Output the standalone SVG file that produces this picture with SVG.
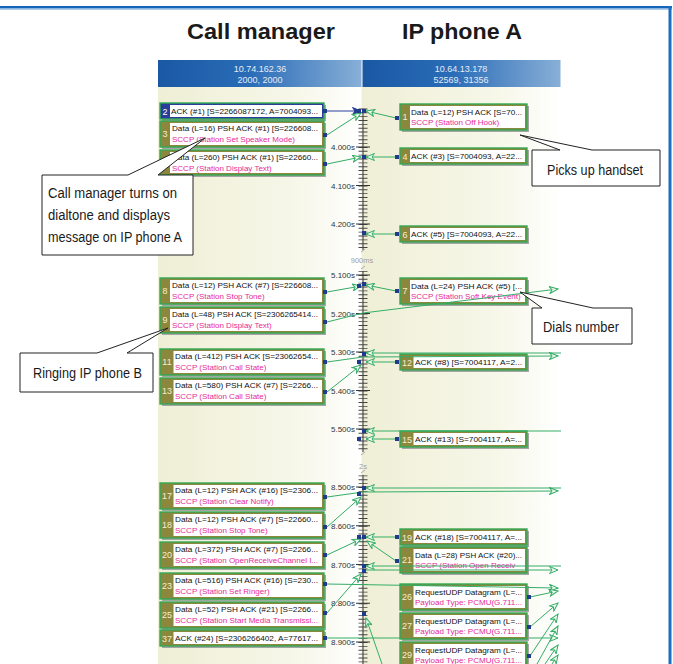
<svg xmlns="http://www.w3.org/2000/svg" width="673" height="664" viewBox="0 0 673 664">
<defs>
<linearGradient id="hb" x1="0" y1="0" x2="1" y2="0">
<stop offset="0" stop-color="#1a58a4"/><stop offset="0.45" stop-color="#2a6cb7"/><stop offset="1" stop-color="#88afd7"/>
</linearGradient>
<linearGradient id="cb" x1="0" y1="0" x2="1" y2="0">
<stop offset="0" stop-color="#efefd6"/><stop offset="0.7" stop-color="#f7f7ea"/><stop offset="1" stop-color="#ffffff"/>
</linearGradient>
<marker id="ah" viewBox="0 0 10 8" refX="9" refY="4" markerWidth="10" markerHeight="8" markerUnits="userSpaceOnUse" orient="auto">
<path d="M0.5,0.5 L9,4 L0.5,7.5 L3,4 Z" fill="#eefaf2" stroke="#34ad66" stroke-width="1"/>
</marker>
<marker id="ahb" viewBox="0 0 10 8" refX="9" refY="4" markerWidth="10" markerHeight="8" markerUnits="userSpaceOnUse" orient="auto">
<path d="M0.5,0.5 L9,4 L0.5,7.5 L3,4 Z" fill="#233a94" stroke="#233a94" stroke-width="1"/>
</marker>
</defs>
<style>
.sh{fill:#a5a5a5}
.nb{fill:#8b873c;stroke:#34a853;stroke-width:1.4}
.nbs{fill:#2a3d98;stroke:#34a853;stroke-width:1.4}
.nw{fill:#ffffff}
.num{font-family:"Liberation Sans",Arial,sans-serif;font-size:9px;fill:#f3efcf;text-anchor:middle}
.t1{font-family:"Liberation Sans",Arial,sans-serif;font-size:8px;fill:#111111}
.t2{font-family:"Liberation Sans",Arial,sans-serif;font-size:8px;fill:#e62a98}
.ttl{font-family:"Liberation Sans",Arial,sans-serif;font-size:22px;font-weight:bold;fill:#1a1a1a;text-anchor:middle}
.hdr{font-family:"Liberation Sans",Arial,sans-serif;font-size:9px;fill:#e4ecf6;text-anchor:middle}
.tl{font-family:"Liberation Sans",Arial,sans-serif;font-size:8px;fill:#333333;text-anchor:end}
.gl{font-family:"Liberation Sans",Arial,sans-serif;font-size:7.5px;fill:#a0a0a0;text-anchor:middle}
.c{fill:none;stroke:#34ad66;stroke-width:1}
.sq{fill:#1f3b8c}
.co{fill:#ffffff;stroke:#222222;stroke-width:1}
.ct{font-family:"Liberation Sans",Arial,sans-serif;font-size:14px;fill:#1a1a1a}
</style>
<rect x="0" y="0" width="673" height="664" fill="#ffffff"/>
<!-- frame -->
<rect x="0" y="6" width="672" height="2.5" fill="#1565b8"/>
<rect x="0" y="8.5" width="672" height="1.2" fill="#8ab8e4"/>
<rect x="668.5" y="6" width="3" height="658" fill="#1a6fc0"/>
<!-- titles -->
<text class="ttl" x="261" y="39" textLength="148" lengthAdjust="spacingAndGlyphs">Call manager</text>
<text class="ttl" x="462" y="39" textLength="120" lengthAdjust="spacingAndGlyphs">IP phone A</text>
<!-- column backgrounds -->
<rect x="158" y="87" width="203.5" height="577" fill="url(#cb)"/>
<rect x="361.5" y="87" width="199" height="577" fill="url(#cb)"/>
<!-- header bars -->
<g id="hdrA">
<rect x="158" y="60" width="203.5" height="27" fill="url(#hb)"/>
<text class="hdr" x="260" y="71.5">10.74.162.36</text>
<text class="hdr" x="260" y="83">2000, 2000</text>
</g>
<g id="hdrB">
<rect x="362.5" y="60" width="198" height="27" fill="url(#hb)"/>
<text class="hdr" x="461" y="71.5">10.64.13.178</text>
<text class="hdr" x="461" y="83">52569, 31356</text>
</g>
<!-- time axis -->
<g id="axis">
<line x1="363" y1="108.5" x2="363" y2="250" stroke="#333" stroke-width="1"/>
<line x1="363" y1="108.5" x2="363" y2="250" stroke="#444" stroke-width="9" stroke-dasharray="0.9 2.95"/>
<line x1="363" y1="271" x2="363" y2="452" stroke="#333" stroke-width="1"/>
<line x1="363" y1="271.15" x2="363" y2="452" stroke="#444" stroke-width="9" stroke-dasharray="0.9 2.95"/>
<line x1="363" y1="475" x2="363" y2="664" stroke="#333" stroke-width="1"/>
<line x1="363" y1="475.4" x2="363" y2="664" stroke="#444" stroke-width="9" stroke-dasharray="0.9 2.975"/>
<path d="M356,147H370M356,185.5H370M356,224H370M356,275H370M356,313.5H370M356,352H370M356,390.5H370M356,429H370M356,487H370M356,525.75H370M356,564.5H370M356,603.25H370M356,642H370" stroke="#333" stroke-width="1"/>
<text class="tl" x="355" y="150">4.000s</text>
<text class="tl" x="355" y="188.5">4.100s</text>
<text class="tl" x="355" y="227">4.200s</text>
<text class="tl" x="355" y="278">5.100s</text>
<text class="tl" x="355" y="316.5">5.200s</text>
<text class="tl" x="355" y="355">5.300s</text>
<text class="tl" x="355" y="393.5">5.400s</text>
<text class="tl" x="355" y="432">5.500s</text>
<text class="tl" x="355" y="490">8.500s</text>
<text class="tl" x="355" y="528.75">8.600s</text>
<text class="tl" x="355" y="567.5">8.700s</text>
<text class="tl" x="355" y="606.25">8.800s</text>
<text class="tl" x="355" y="645">8.900s</text>
<path d="M361,252L365,249M361,269L365,266M361,455L365,452M361,473L365,470" stroke="#aaa" stroke-width="1"/>
<text class="gl" x="362" y="263">900ms</text>
<text class="gl" x="363" y="469">2s</text>
</g>
<!-- nodes: Call manager -->
<g id="n2">
<rect class="sh" x="162" y="105" width="164" height="16"/>
<rect class="nbs" x="160" y="103" width="164" height="16"/>
<rect class="nw" x="170" y="105" width="152" height="12"/>
<text class="num" x="165" y="114.5" style="fill:#ffffff">2</text>
<text class="t1" x="171" y="114" textLength="147" lengthAdjust="spacingAndGlyphs">ACK (#1) [S=2266087172, A=7004093...</text>
</g>
<g id="n3">
<rect class="sh" x="162" y="123" width="164" height="26"/>
<rect class="nb" x="160" y="121" width="164" height="26"/>
<rect class="nw" x="170" y="123" width="152" height="22"/>
<text class="num" x="165" y="137">3</text>
<text class="t1" x="172" y="131" textLength="146" lengthAdjust="spacingAndGlyphs">Data (L=16) PSH ACK (#1) [S=226608...</text>
<text class="t2" x="172" y="142">SCCP (Station Set Speaker Mode)</text>
</g>
<g id="n5">
<rect class="sh" x="162" y="152" width="164" height="25"/>
<rect class="nb" x="160" y="150" width="164" height="25"/>
<rect class="nw" x="170" y="152" width="152" height="21"/>
<text class="t1" x="172" y="160" textLength="146" lengthAdjust="spacingAndGlyphs">Data (L=260) PSH ACK (#1) [S=22660...</text>
<text class="t2" x="172" y="171">SCCP (Station Display Text)</text>
</g>
<g id="n8">
<rect class="sh" x="162" y="280" width="164" height="26"/>
<rect class="nb" x="160" y="278" width="164" height="26"/>
<rect class="nw" x="170" y="280" width="152" height="22"/>
<text class="num" x="165" y="294">8</text>
<text class="t1" x="172" y="288" textLength="146" lengthAdjust="spacingAndGlyphs">Data (L=12) PSH ACK (#7) [S=226608...</text>
<text class="t2" x="172" y="299">SCCP (Station Stop Tone)</text>
</g>
<g id="n9">
<rect class="sh" x="162" y="309" width="164" height="26"/>
<rect class="nb" x="160" y="307" width="164" height="26"/>
<rect class="nw" x="170" y="309" width="152" height="22"/>
<text class="num" x="165" y="323">9</text>
<text class="t1" x="172" y="317" textLength="146" lengthAdjust="spacingAndGlyphs">Data (L=48) PSH ACK [S=2306265414...</text>
<text class="t2" x="172" y="328">SCCP (Station Display Text)</text>
</g>
<g id="n11">
<rect class="sh" x="162" y="351" width="164" height="26"/>
<rect class="nb" x="160" y="349" width="164" height="26"/>
<rect class="nw" x="173.5" y="351" width="148.5" height="22"/>
<text class="num" x="167" y="365">11</text>
<text class="t1" x="175" y="359" textLength="143" lengthAdjust="spacingAndGlyphs">Data (L=412) PSH ACK [S=23062654...</text>
<text class="t2" x="175" y="370">SCCP (Station Call State)</text>
</g>
<g id="n13">
<rect class="sh" x="162" y="380" width="164" height="26"/>
<rect class="nb" x="160" y="378" width="164" height="26"/>
<rect class="nw" x="173.5" y="380" width="148.5" height="22"/>
<text class="num" x="167" y="394">13</text>
<text class="t1" x="175" y="388" textLength="143" lengthAdjust="spacingAndGlyphs">Data (L=580) PSH ACK (#7) [S=2266...</text>
<text class="t2" x="175" y="399">SCCP (Station Call State)</text>
</g>
<g id="n17">
<rect class="sh" x="162" y="485" width="164" height="26"/>
<rect class="nb" x="160" y="483" width="164" height="26"/>
<rect class="nw" x="173.5" y="485" width="148.5" height="22"/>
<text class="num" x="167" y="499">17</text>
<text class="t1" x="175" y="493" textLength="143" lengthAdjust="spacingAndGlyphs">Data (L=12) PSH ACK (#16) [S=2306...</text>
<text class="t2" x="175" y="504">SCCP (Station Clear Notify)</text>
</g>
<g id="n18">
<rect class="sh" x="162" y="514" width="164" height="26"/>
<rect class="nb" x="160" y="512" width="164" height="26"/>
<rect class="nw" x="173.5" y="514" width="148.5" height="22"/>
<text class="num" x="167" y="528">18</text>
<text class="t1" x="175" y="522" textLength="143" lengthAdjust="spacingAndGlyphs">Data (L=12) PSH ACK (#7) [S=22660...</text>
<text class="t2" x="175" y="533">SCCP (Station Stop Tone)</text>
</g>
<g id="n20">
<rect class="sh" x="162" y="544" width="164" height="26"/>
<rect class="nb" x="160" y="542" width="164" height="26"/>
<rect class="nw" x="173.5" y="544" width="148.5" height="22"/>
<text class="num" x="167" y="558">20</text>
<text class="t1" x="175" y="552" textLength="143" lengthAdjust="spacingAndGlyphs">Data (L=372) PSH ACK (#7) [S=2266...</text>
<text class="t2" x="175" y="563" textLength="143" lengthAdjust="spacingAndGlyphs">SCCP (Station OpenReceiveChannel I...</text>
</g>
<g id="n23">
<rect class="sh" x="162" y="575" width="164" height="26"/>
<rect class="nb" x="160" y="573" width="164" height="26"/>
<rect class="nw" x="173.5" y="575" width="148.5" height="22"/>
<text class="num" x="167" y="589">23</text>
<text class="t1" x="175" y="583" textLength="143" lengthAdjust="spacingAndGlyphs">Data (L=516) PSH ACK (#16) [S=230...</text>
<text class="t2" x="175" y="594">SCCP (Station Set Ringer)</text>
</g>
<g id="n25">
<rect class="sh" x="162" y="604" width="164" height="26"/>
<rect class="nb" x="160" y="602" width="164" height="26"/>
<rect class="nw" x="173.5" y="604" width="148.5" height="22"/>
<text class="num" x="167" y="618">25</text>
<text class="t1" x="175" y="612" textLength="143" lengthAdjust="spacingAndGlyphs">Data (L=52) PSH ACK (#21) [S=2266...</text>
<text class="t2" x="175" y="623" textLength="143" lengthAdjust="spacingAndGlyphs">SCCP (Station Start Media Transmissi...</text>
</g>
<g id="n37">
<rect class="sh" x="162" y="632" width="164" height="16"/>
<rect class="nb" x="160" y="630" width="164" height="16"/>
<rect class="nw" x="173.5" y="632" width="148.5" height="12"/>
<text class="num" x="167" y="641.5">37</text>
<text class="t1" x="175" y="641" textLength="143" lengthAdjust="spacingAndGlyphs">ACK (#24) [S=2306266402, A=77617...</text>
</g>
<!-- nodes: IP phone A -->
<g id="n1">
<rect class="sh" x="402" y="106" width="127" height="26"/>
<rect class="nb" x="400" y="104" width="127" height="26"/>
<rect class="nw" x="410" y="106" width="115" height="22"/>
<text class="num" x="405" y="120">1</text>
<text class="t1" x="411" y="114.5" textLength="111" lengthAdjust="spacingAndGlyphs">Data (L=12) PSH ACK [S=70...</text>
<text class="t2" x="411" y="125">SCCP (Station Off Hook)</text>
</g>
<g id="n4">
<rect class="sh" x="402" y="150" width="127" height="16"/>
<rect class="nb" x="400" y="148" width="127" height="16"/>
<rect class="nw" x="410" y="150" width="115" height="12"/>
<text class="num" x="405" y="159.5">4</text>
<text class="t1" x="411" y="159" textLength="111" lengthAdjust="spacingAndGlyphs">ACK (#3) [S=7004093, A=22...</text>
</g>
<g id="n6">
<rect class="sh" x="402" y="228" width="127" height="16"/>
<rect class="nb" x="400" y="226" width="127" height="16"/>
<rect class="nw" x="410" y="228" width="115" height="12"/>
<text class="num" x="405" y="237.5">6</text>
<text class="t1" x="411" y="237" textLength="111" lengthAdjust="spacingAndGlyphs">ACK (#5) [S=7004093, A=22...</text>
</g>
<g id="n7">
<rect class="sh" x="402" y="280" width="127" height="26"/>
<rect class="nb" x="400" y="278" width="127" height="26"/>
<rect class="nw" x="410" y="280" width="115" height="22"/>
<text class="num" x="405" y="294">7</text>
<text class="t1" x="411" y="288.5" textLength="111" lengthAdjust="spacingAndGlyphs">Data (L=24) PSH ACK (#5) [...</text>
<text class="t2" x="411" y="299">SCCP (Station Soft Key Event)</text>
</g>
<g id="n12">
<rect class="sh" x="402" y="356" width="127" height="16"/>
<rect class="nb" x="400" y="354" width="127" height="16"/>
<rect class="nw" x="413.5" y="356" width="111.5" height="12"/>
<text class="num" x="407" y="365.5">12</text>
<text class="t1" x="415" y="365" textLength="107" lengthAdjust="spacingAndGlyphs">ACK (#8) [S=7004117, A=2...</text>
</g>
<g id="n15">
<rect class="sh" x="402" y="433" width="127" height="16"/>
<rect class="nb" x="400" y="431" width="127" height="16"/>
<rect class="nw" x="413.5" y="433" width="111.5" height="12"/>
<text class="num" x="407" y="442.5">15</text>
<text class="t1" x="415" y="442" textLength="107" lengthAdjust="spacingAndGlyphs">ACK (#13) [S=7004117, A=...</text>
</g>
<g id="n19">
<rect class="sh" x="402" y="531" width="127" height="16"/>
<rect class="nb" x="400" y="529" width="127" height="16"/>
<rect class="nw" x="413.5" y="531" width="111.5" height="12"/>
<text class="num" x="407" y="540.5">19</text>
<text class="t1" x="415" y="540" textLength="107" lengthAdjust="spacingAndGlyphs">ACK (#18) [S=7004117, A=...</text>
</g>
<g id="n21">
<rect class="sh" x="402" y="549" width="127" height="26"/>
<rect class="nb" x="400" y="547" width="127" height="26"/>
<rect class="nw" x="413.5" y="549" width="111.5" height="22"/>
<text class="num" x="407" y="563">21</text>
<text class="t1" x="415" y="557.5" textLength="107" lengthAdjust="spacingAndGlyphs">Data (L=28) PSH ACK (#20)...</text>
<text class="t2" x="415" y="568">SCCP (Station Open Receiv</text>
</g>
<g id="n26">
<rect class="sh" x="402" y="586" width="127" height="26"/>
<rect class="nb" x="400" y="584" width="127" height="26"/>
<rect class="nw" x="413.5" y="586" width="111.5" height="22"/>
<text class="num" x="407" y="600">26</text>
<text class="t1" x="415" y="594.5" textLength="107" lengthAdjust="spacingAndGlyphs">RequestUDP Datagram  (L=...</text>
<text class="t2" x="415" y="605" textLength="107" lengthAdjust="spacingAndGlyphs">Payload Type: PCMU(G.711...</text>
</g>
<g id="n27">
<rect class="sh" x="402" y="615" width="127" height="26"/>
<rect class="nb" x="400" y="613" width="127" height="26"/>
<rect class="nw" x="413.5" y="615" width="111.5" height="22"/>
<text class="num" x="407" y="629">27</text>
<text class="t1" x="415" y="623.5" textLength="107" lengthAdjust="spacingAndGlyphs">RequestUDP Datagram  (L=...</text>
<text class="t2" x="415" y="634" textLength="107" lengthAdjust="spacingAndGlyphs">Payload Type: PCMU(G.711...</text>
</g>
<g id="n29">
<rect class="sh" x="402" y="644" width="127" height="26"/>
<rect class="nb" x="400" y="642" width="127" height="26"/>
<rect class="nw" x="413.5" y="644" width="111.5" height="22"/>
<text class="num" x="407" y="658">29</text>
<text class="t1" x="415" y="652.5" textLength="107" lengthAdjust="spacingAndGlyphs">RequestUDP Datagram  (L=...</text>
<text class="t2" x="415" y="663" textLength="107" lengthAdjust="spacingAndGlyphs">Payload Type: PCMU(G.711...</text>
</g>
<!-- connectors -->
<g id="connectors">
<line x1="327" y1="111" x2="361" y2="111" stroke="#2a3f9f" stroke-width="1" marker-end="url(#ahb)"/>
<line class="c" x1="327" y1="135" x2="361" y2="113" marker-end="url(#ah)"/>
<line class="c" x1="396" y1="118" x2="366" y2="111" marker-end="url(#ah)"/>
<line class="c" x1="327" y1="164" x2="361" y2="157" marker-end="url(#ah)"/>
<line class="c" x1="396" y1="157" x2="366" y2="157" marker-end="url(#ah)"/>
<line class="c" x1="396" y1="234" x2="366" y2="234" marker-end="url(#ah)"/>
<line class="c" x1="327" y1="292" x2="361" y2="286" marker-end="url(#ah)"/>
<line class="c" x1="396" y1="291" x2="366" y2="285" marker-end="url(#ah)"/>
<polyline class="c" points="327,322 363,313 558,289" marker-end="url(#ah)"/>
<polyline class="c" points="327,362 363,357 558,356" marker-end="url(#ah)"/>
<line class="c" x1="561" y1="353" x2="366" y2="353" marker-end="url(#ah)"/>
<line class="c" x1="396" y1="362" x2="366" y2="362" marker-end="url(#ah)"/>
<line class="c" x1="327" y1="392" x2="361" y2="365" marker-end="url(#ah)"/>
<line class="c" x1="561" y1="431" x2="366" y2="431" marker-end="url(#ah)"/>
<line class="c" x1="396" y1="439" x2="366" y2="439" marker-end="url(#ah)"/>
<polyline class="c" points="327,497 363,492 558,491" marker-end="url(#ah)"/>
<line class="c" x1="561" y1="488" x2="366" y2="488" marker-end="url(#ah)"/>
<line class="c" x1="327" y1="527" x2="361" y2="497" marker-end="url(#ah)"/>
<line class="c" x1="396" y1="537" x2="366" y2="537" marker-end="url(#ah)"/>
<line class="c" x1="396" y1="561" x2="367" y2="541" marker-end="url(#ah)"/>
<line class="c" x1="327" y1="555" x2="361" y2="539" marker-end="url(#ah)"/>
<line class="c" x1="561" y1="566" x2="366" y2="566" marker-end="url(#ah)"/>
<line class="c" x1="363" y1="570" x2="558" y2="570" marker-end="url(#ah)"/>
<line class="c" x1="327" y1="584" x2="558" y2="588" marker-end="url(#ah)"/>
<line class="c" x1="327" y1="613" x2="361" y2="574" marker-end="url(#ah)"/>
<line class="c" x1="327" y1="638" x2="400" y2="638"/>
<line class="c" x1="529" y1="638" x2="558" y2="638" marker-end="url(#ah)"/>
<line class="c" x1="382" y1="664" x2="366" y2="618" marker-end="url(#ah)"/>
<line class="c" x1="530" y1="597" x2="558" y2="591" marker-end="url(#ah)"/>
<line class="c" x1="530" y1="627" x2="558" y2="603" marker-end="url(#ah)"/>
<line class="c" x1="530" y1="656" x2="558" y2="614" marker-end="url(#ah)"/>
<line class="c" x1="537" y1="664" x2="558" y2="626" marker-end="url(#ah)"/>
<line class="c" x1="545" y1="664" x2="558" y2="645" marker-end="url(#ah)"/>
<line class="c" x1="552" y1="664" x2="558" y2="655" marker-end="url(#ah)"/>
<!-- connection squares -->
<rect class="sq" x="323" y="109" width="4" height="4"/>
<rect class="sq" x="323" y="133" width="4" height="4"/>
<rect class="sq" x="323" y="162" width="4" height="4"/>
<rect class="sq" x="323" y="290" width="4" height="4"/>
<rect class="sq" x="323" y="320" width="4" height="4"/>
<rect class="sq" x="323" y="360" width="4" height="4"/>
<rect class="sq" x="323" y="390" width="4" height="4"/>
<rect class="sq" x="323" y="495" width="4" height="4"/>
<rect class="sq" x="323" y="525" width="4" height="4"/>
<rect class="sq" x="323" y="553" width="4" height="4"/>
<rect class="sq" x="323" y="582" width="4" height="4"/>
<rect class="sq" x="323" y="611" width="4" height="4"/>
<rect class="sq" x="323" y="636" width="4" height="4"/>
<rect class="sq" x="395" y="116" width="4" height="4"/>
<rect class="sq" x="395" y="155" width="4" height="4"/>
<rect class="sq" x="395" y="232" width="4" height="4"/>
<rect class="sq" x="395" y="289" width="4" height="4"/>
<rect class="sq" x="395" y="360" width="4" height="4"/>
<rect class="sq" x="395" y="437" width="4" height="4"/>
<rect class="sq" x="395" y="535" width="4" height="4"/>
<rect class="sq" x="395" y="559" width="4" height="4"/>
<rect class="sq" x="527" y="595" width="4" height="4"/>
<rect class="sq" x="527" y="625" width="4" height="4"/>
<rect class="sq" x="527" y="654" width="4" height="4"/>
<rect class="sq" x="357" y="109" width="4" height="4"/>
<rect class="sq" x="362" y="109" width="4" height="4"/>
<rect class="sq" x="362" y="155" width="4" height="4"/>
<rect class="sq" x="362" y="231" width="4" height="4"/>
<rect class="sq" x="357" y="284" width="4" height="4"/>
<rect class="sq" x="362" y="282" width="4" height="4"/>
<rect class="sq" x="362" y="352" width="4" height="4"/>
<rect class="sq" x="357" y="360" width="4" height="4"/>
<rect class="sq" x="362" y="429" width="4" height="4"/>
<rect class="sq" x="357" y="437" width="4" height="4"/>
<rect class="sq" x="362" y="486" width="4" height="4"/>
<rect class="sq" x="357" y="492" width="4" height="4"/>
<rect class="sq" x="357" y="535" width="4" height="4"/>
<rect class="sq" x="362" y="535" width="4" height="4"/>
<rect class="sq" x="362" y="564" width="4" height="4"/>
<rect class="sq" x="362" y="569" width="4" height="4"/>
<rect class="sq" x="362" y="612" width="4" height="4"/>
</g>
<!-- callouts -->
<g id="callout1">
<path class="co" d="M42,175 L128,175 L205,138 L158,175 L193,175 L193,255 L42,255 Z"/>
<text class="ct" x="48" y="198" textLength="129" lengthAdjust="spacingAndGlyphs">Call manager turns on</text>
<text class="ct" x="48" y="220" textLength="122" lengthAdjust="spacingAndGlyphs">dialtone and displays</text>
<text class="ct" x="48" y="242" textLength="134" lengthAdjust="spacingAndGlyphs">message on IP phone A</text>
</g>
<g id="callout2">
<path class="co" d="M532,150 L560,150 L520,135 L592,150 L660,150 L660,186 L532,186 Z"/>
<text class="ct" x="547" y="175" textLength="96" lengthAdjust="spacingAndGlyphs">Picks up handset</text>
</g>
<g id="callout3">
<path class="co" d="M532,308 L542,308 L520,292 L593,308 L632,308 L632,344 L532,344 Z"/>
<text class="ct" x="543" y="332" textLength="76" lengthAdjust="spacingAndGlyphs">Dials number</text>
</g>
<g id="callout4">
<path class="co" d="M20,353 L97,353 L168,328 L127,353 L153,353 L153,392 L20,392 Z"/>
<text class="ct" x="33" y="378" textLength="109" lengthAdjust="spacingAndGlyphs">Ringing IP phone B</text>
</g>
</svg>
